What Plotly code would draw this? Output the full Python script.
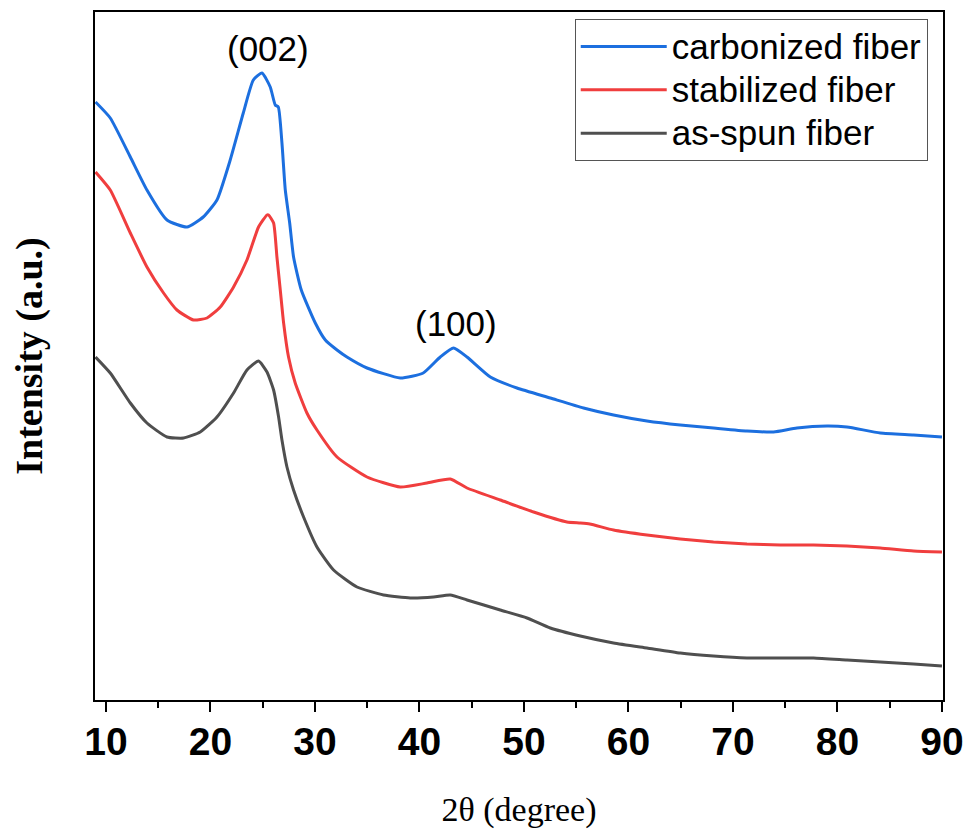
import plotly.graph_objects as go

# 2-theta (degree) and intensity (a.u.)
theta_carb = [9.0, 10.41, 12.33, 13.92, 15.84, 17.75, 19.31, 20.62, 21.89, 23.14, 24.10, 24.93,
              25.72, 26.20, 26.49, 26.84, 27.16, 27.58, 27.95, 28.69, 30.03, 30.99, 32.11, 33.06,
              34.98, 38.16, 40.36, 41.99, 43.26, 44.55, 46.78, 49.33, 52.52, 55.70, 58.57, 61.77,
              64.96, 68.14, 71.34, 73.88, 76.12, 79.0, 80.91, 84.1, 87.28, 90.0]
int_carb = [598, 582, 543, 510, 480, 473, 483, 500, 540, 587, 620, 627,
            613, 595, 593, 557, 510, 477, 443, 410, 377, 360, 350, 343,
            332, 322, 327, 343, 352, 343, 323, 312, 302, 292, 285, 279,
            275, 272, 269, 268, 272, 274, 273, 267, 265, 263]

theta_stab = [9.0, 10.41, 12.33, 13.92, 15.51, 16.79, 18.38, 19.67, 20.94, 22.21, 23.49, 24.60,
              25.41, 25.56, 26.04, 26.36, 26.68, 27.0, 27.47, 28.11, 29.23, 30.19, 32.11, 34.98,
              38.16, 40.72, 42.95, 44.55, 47.73, 50.92, 54.11, 55.39, 56.3, 58.57, 61.77, 64.96,
              68.14, 71.34, 74.53, 77.71, 80.91, 84.1, 87.28, 90.0]
int_stab = [528, 510, 467, 433, 407, 390, 380, 382, 393, 413, 440, 473,
            485, 485, 477, 443, 410, 377, 343, 317, 287, 270, 243, 223,
            213, 217, 221, 212, 200, 188, 178, 177, 176, 170, 165, 161,
            158, 156, 155, 155, 154, 152, 149, 148]

theta_spun = [9.0, 10.41, 12.33, 13.92, 15.84, 17.43, 19.02, 20.62, 22.21, 23.49, 24.60, 25.41,
              26.04, 26.52, 26.84, 27.32, 27.95, 28.91, 30.19, 31.78, 34.02, 36.56, 39.12, 41.35,
              42.95, 44.55, 47.73, 50.29, 52.52, 55.39, 58.57, 61.77, 64.96, 68.14, 71.34, 74.53,
              77.71, 80.91, 84.1, 87.28, 90.0]
int_spun = [343, 327, 297, 277, 263, 262, 268, 283, 307, 330, 339, 328,
            310, 283, 260, 233, 210, 183, 153, 130, 113, 105, 102, 103,
            105, 100, 90, 82, 72, 64, 57, 52, 47, 44, 42, 42,
            42, 40, 38, 36, 34]

series_names = ["carbonized fiber", "stabilized fiber", "as-spun fiber"]
series_colors = ["#1c6fdf", "#f03e3e", "#4f4f4f"]
x_ticks = [10, 20, 30, 40, 50, 60, 70, 80, 90]
peak_labels = ["(002)", "(100)"]
peak_pos = [(25.5, 652), (43.5, 377)]

fig = go.Figure()
for xs, ys, name, col in zip([theta_carb, theta_stab, theta_spun],
                             [int_carb, int_stab, int_spun],
                             series_names, series_colors):
    fig.add_trace(go.Scatter(x=xs, y=ys, mode="lines",
                             name='<span style="font-size:35px">' + name + '</span>',
                             line=dict(color=col, width=3, shape="spline", smoothing=0.5)))

for txt, (px, py) in zip(peak_labels, peak_pos):
    fig.add_annotation(x=px, y=py, text=txt, showarrow=False,
                       font=dict(family="Liberation Sans, Arial", size=35, color="black"))

fig.update_layout(
    width=974, height=829,
    margin=dict(l=95, r=31, t=12, b=129, autoexpand=False),
    plot_bgcolor="white", paper_bgcolor="white",
    showlegend=True,
    legend=dict(x=0.982, y=0.99, xanchor="right", yanchor="top",
                bordercolor="#555555", borderwidth=1, bgcolor="white",
                font=dict(family="Liberation Sans, Arial", size=31, color="black"),
                itemwidth=86, tracegroupgap=0),
    xaxis=dict(range=[8.95, 90.1], tickvals=x_ticks, ticks="outside", ticklen=10, tickwidth=2,
               tickcolor="black", showline=True, linecolor="black", linewidth=2, mirror=True,
               showgrid=False, zeroline=False, automargin=False, ticklabelstandoff=-4,
               tickfont=dict(family="Liberation Sans, Arial", size=39, color="black", weight="bold"),
               minor=dict(dtick=5, ticks="outside", ticklen=6, tickwidth=2, tickcolor="black", showgrid=False),
               title=dict(text="2θ (degree)", standoff=46,
                          font=dict(family="Liberation Serif, Times New Roman", size=34, color="black"))),
    yaxis=dict(range=[0, 688], showticklabels=False, ticks="", showline=True, linecolor="black",
               linewidth=2, mirror=True, showgrid=False, zeroline=False, automargin=False,
               title=dict(text="Intensity (a.u.)", standoff=39,
                          font=dict(family="Liberation Serif, Times New Roman", size=38, color="black",
                                    weight="bold"))),
)

# remove the browser's default 8 px body margin so the figure fills the window exactly
fig.write_html("out.html", config={"displayModeBar": False},
               post_script="document.body.style.margin='0px';")
